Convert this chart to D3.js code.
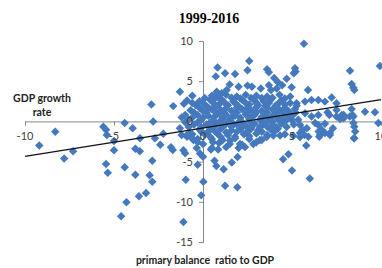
<!DOCTYPE html>
<html>
<head>
<meta charset="utf-8">
<script src="https://cdn.jsdelivr.net/npm/d3@7"></script>
<style>
  body { margin: 0; background: #fff; }
  svg { display: block; }
</style>
</head>
<body>
<svg width="382" height="268"></svg>
<script>
// primary balance ratio (x) vs GDP growth rate (y)

const leftPoints = [
  [-9.2,-3.0],[-8.3,-1.3],[-7.8,-4.6],[-7.3,-3.7],
  [-5.6,-0.65],[-5.45,-1.05],[-5.4,-1.7],[-5.0,-2.45],[-5.0,-3.6],
  [-5.45,-5.3],[-5.35,-6.4],[-4.4,-5.7],[-3.8,-6.65],[-3.0,-6.7],[-2.85,-7.5],[-2.85,-4.9],
  [-4.3,-10.05],[-3.6,-9.3],[-3.2,-8.9],[-4.6,-11.8],
  [-4.4,-0.2],[-3.95,-0.85],[-2.8,0.0],[-2.9,2.1],[-1.67,1.9],[-1.07,2.2],[-1.3,3.7],
  [-3.54,-2.1],[-2.7,-2.1],[-2.23,-1.55],[-3.8,-3.4],[-3.55,-3.7],
  [-2.4,-2.9],[-1.8,-3.2],[-1.7,-3.55]
];

const lowerPoints = [
  [-1.1,-12.5],[-0.97,-7.25],[-0.3,-5.4],[-0.1,-9.2],[0.02,-7.5],
  [0.65,-4.9],[0.75,-5.55],[0.45,-3.5],[0.85,-3.5],[1.16,-5.95],[1.24,-8.0],[1.93,-8.2],
  [1.62,-5.1],[1.94,-4.42],[4.5,-4.7],[4.8,-4.1],[5.0,-6.1],[6.0,-7.1],[5.8,-3.0],
  [-1.3,-0.85],[-1.2,-1.7],[-0.9,-1.9],[-0.73,-1.5],[-0.54,-2.3],[-1.1,-3.6],[-1.0,-3.95],
  [-0.35,-3.3],[-0.17,-4.0],[0.0,-4.4]
];

const upperPoints = [
  [5.67,9.65],[9.94,6.9],[0.82,6.7],[2.6,7.5],[2.5,6.35],[3.6,6.5],[3.7,6.1],[1.24,6.0],[1.8,5.9],
  [5.17,6.6],[5.2,6.2],[5.1,6.0],[8.26,6.3],[0.72,5.6],[1.5,4.6],[2.0,4.3],[2.5,4.45],[2.75,4.3],
  [3.25,4.1],[3.7,4.5],[4.0,5.4],[4.2,4.9],[4.45,4.5],[4.7,5.3],[4.98,4.25],[5.9,3.9],
  [8.35,4.65],[8.45,4.2],[8.5,3.9],[0.77,3.7],[0.67,3.1],[3.82,3.9],[4.14,4.1],
  [0.4,2.7],[0.77,3.1],[1.05,3.5],[1.33,3.9]
];

const rightPoints = [
  [5.26,2.26],[5.73,2.46],[6.1,2.67],[6.48,2.67],[6.85,2.46],[7.23,2.96],[7.5,2.26],
  [5.26,1.96],[5.17,1.55],[7.0,1.15],[7.5,1.43],[8.35,1.55],[9.1,1.2],[9.66,1.15],
  [8.4,0.8],[7.1,0.8],[7.8,0.8],[7.5,0.6],[7.9,0.8],[8.25,0.6],[5.73,1.0],[6.1,0.6],[6.48,0.8],[7.9,0.4],
  [5.45,-0.45],[5.83,-0.85],[6.3,-0.2],[6.5,-1.25],[6.85,-0.3],[7.3,-0.85],[7.7,0.3],
  [8.45,0.6],[8.5,-0.65],[8.55,-1.25],[8.45,-0.2],[8.5,-2.1],[9.85,-0.2],
  [5.07,-1.8],[5.45,-1.95],[5.92,-1.9],[6.53,-1.9],[7.13,-1.7],[8.48,-2.1],
  [6.48,-0.45],[6.67,-1.05],[6.57,-1.7],[6.85,-1.45],[7.13,-1.45],
  [4.7,0.8],[4.98,0.2],[5.35,0.2],[5.6,-1.05],[5.7,-1.7],[5.45,-1.45]
];

const clusterPoints = [
  [-0.6,3.2],[0.5,3.2],[1.3,3.3],[1.9,3.1],[2.4,3.3],[3.0,3.2],[3.6,3.1],[4.3,3.3],[4.9,3.1],
  [-0.9,2.6],[-0.2,2.5],[0.6,2.7],[1.1,2.6],[1.7,2.5],[2.2,2.7],[2.9,2.6],[3.4,2.5],[3.8,2.7],[4.4,2.6],
  [-0.4,2.0],[0.2,1.9],[0.9,2.1],[1.4,2.0],[2.0,1.9],[2.6,2.1],[3.1,2.0],[3.5,1.9],[4.1,2.0],[4.6,2.1],
  [-0.7,1.4],[0.0,1.3],[0.5,1.5],[1.0,1.4],[1.6,1.3],[2.2,1.5],[2.7,1.4],[3.3,1.3],[3.9,1.5],[4.3,1.4],[4.8,1.3],
  [-1.0,0.8],[-0.3,0.8],[0.3,0.7],[0.8,0.9],[1.3,0.8],[1.8,0.7],[2.4,0.9],[2.9,0.8],[3.5,0.7],[4.0,0.9],[4.5,0.8],[5.0,0.7],
  [-0.8,0.2],[-0.1,0.2],[0.6,0.1],[1.1,0.3],[1.5,0.2],[2.1,0.1],[2.6,0.3],[3.2,0.2],[3.7,0.1],[4.2,0.3],[4.7,0.2],
  [-0.5,-0.4],[0.2,-0.4],[0.7,-0.5],[1.3,-0.3],[1.9,-0.4],[2.4,-0.5],[2.9,-0.3],[3.4,-0.4],[3.9,-0.5],[4.4,-0.3],[5.1,-0.4],
  [-0.2,-1.0],[0.4,-1.0],[1.0,-0.9],[1.6,-1.1],[2.1,-1.0],[2.7,-0.9],[3.1,-1.1],[3.8,-1.0],[4.2,-0.9],
  [-0.6,-1.6],[0.1,-1.6],[0.8,-1.5],[1.4,-1.7],[2.3,-1.6],[3.0,-1.5],[3.6,-1.7],[4.6,-1.6],
  [-0.3,-2.2],[0.5,-2.2],[1.1,-2.3],[1.8,-2.1],[2.6,-2.2],[3.3,-2.3],
  [0.0,-2.8],[0.9,-2.7],[1.5,-2.8],[2.2,-2.9],[3.0,-2.6],
  [0.5,-3.3],[1.3,-3.2],[2.0,-3.3],
  [2.83,-2.8],[3.2,-2.3],[3.58,-1.95],[3.95,-1.75],[4.33,-1.75],
  [0.56,-2.6],[1.05,-2.4],[1.52,-2.4],[2.08,-2.8],[2.36,-3.2],
  [-0.9,-1.7],[-0.6,-2.1],[-0.3,-2.6],[-0.1,-1.3]
];

// second, offset layer of the dense middle
const clusterFill = [
  [0.1,2.9],[0.9,2.9],[1.6,2.95],[2.1,2.85],[2.7,2.9],[3.3,2.9],[3.9,2.95],[4.6,2.85],
  [-0.6,2.3],[0.0,2.3],[0.6,2.25],[1.2,2.35],[1.8,2.3],[2.4,2.3],[3.0,2.25],[3.7,2.3],[4.3,2.35],[4.9,2.3],
  [-0.2,1.7],[0.3,1.7],[0.7,1.75],[1.3,1.65],[1.9,1.7],[2.5,1.7],[3.0,1.75],[3.6,1.7],[4.2,1.65],[4.6,1.7],
  [-0.5,1.1],[0.2,1.1],[0.7,1.15],[1.2,1.05],[1.9,1.1],[2.5,1.1],[3.0,1.15],[3.6,1.1],[4.1,1.05],[4.6,1.1],[5.2,1.1],
  [-1.2,0.5],[-0.6,0.5],[0.0,0.45],[0.6,0.5],[1.1,0.55],[1.6,0.5],[2.1,0.45],[2.7,0.5],[3.3,0.55],[3.8,0.5],[4.3,0.45],[4.9,0.5],
  [-1.0,-0.1],[-0.3,-0.1],[0.4,-0.15],[0.9,-0.1],[1.6,-0.05],[2.2,-0.1],[2.7,-0.15],[3.4,-0.1],[3.9,-0.05],[4.5,-0.1],
  [-0.8,-0.7],[-0.1,-0.7],[0.5,-0.75],[1.1,-0.7],[1.6,-0.65],[2.2,-0.7],[2.7,-0.75],[3.2,-0.7],[3.6,-0.65],[4.1,-0.7],[4.7,-0.7],
  [0.3,-1.3],[0.7,-1.3],[1.3,-1.35],[1.9,-1.3],[2.5,-1.25],[3.3,-1.3],[4.0,-1.3],
  [0.4,-1.9],[1.0,-1.95],[1.8,-1.9],[2.6,-1.85]
];

const trendX = [-10, 10];
const trendY = [-4.35, 2.7];

const xTicks = [-10, -5, 0, 5, 10];
const yTicks = [-15, -10, -5, 0, 5, 10];

const allPoints = [].concat(leftPoints, lowerPoints, upperPoints, rightPoints, clusterPoints, clusterFill);

const svg = d3.select('svg');

const x = d3.scaleLinear().domain([-10, 10]).range([25, 381]);
const y = d3.scaleLinear().domain([-15, 10]).range([242, 41]);

// title and axis titles
svg.append('text')
  .attr('x', 209).attr('y', 23)
  .attr('text-anchor', 'middle')
  .style('font-family', '"Liberation Serif", serif')
  .style('font-weight', 'bold')
  .style('font-size', '14px')
  .text('1999-2016');

svg.append('text')
  .attr('x', 42).attr('y', 102)
  .attr('text-anchor', 'middle')
  .style('font-family', 'Lato, sans-serif')
  .style('font-weight', 'bold')
  .style('font-size', '10.5px')
  .style('fill', '#222')
  .text('GDP growth');
svg.append('text')
  .attr('x', 42).attr('y', 116)
  .attr('text-anchor', 'middle')
  .style('font-family', 'Lato, sans-serif')
  .style('font-weight', 'bold')
  .style('font-size', '10.5px')
  .style('fill', '#222')
  .text('rate');

svg.append('text')
  .attr('x', 205).attr('y', 264)
  .attr('text-anchor', 'middle')
  .style('font-family', 'Lato, sans-serif')
  .style('font-weight', 'bold')
  .style('font-size', '10.5px')
  .style('fill', '#222')
  .style('white-space', 'pre')
  .text('primary balance  ratio to GDP');

// axes: lines first, labels after the markers
const xAxis = svg.append('g')
  .attr('transform', `translate(0,${y(0)})`)
  .call(d3.axisBottom(x).tickValues(xTicks).tickSize(4).tickPadding(6));
const yAxis = svg.append('g')
  .attr('transform', `translate(${x(0)},0)`)
  .call(d3.axisLeft(y).tickValues(yTicks).tickSize(4).tickPadding(6));

svg.selectAll('.domain, .tick line').attr('stroke', '#888');
xAxis.selectAll('.tick text').remove();
yAxis.selectAll('.tick text').remove();

// markers
svg.append('g')
  .selectAll('path')
  .data(allPoints)
  .enter()
  .append('path')
  .attr('d', d3.symbol().type(d3.symbolSquare).size(36))
  .attr('transform', d => `translate(${x(d[0])},${y(d[1])}) rotate(45)`)
  .attr('fill', '#4579be');

// trend line
svg.append('line')
  .attr('x1', x(trendX[0])).attr('y1', y(trendY[0]))
  .attr('x2', x(trendX[1])).attr('y2', y(trendY[1]))
  .attr('stroke', '#111')
  .attr('stroke-width', 1.3);

// tick labels on top
const labels = svg.append('g')
  .style('font-family', 'Lato, "Open Sans", sans-serif')
  .style('font-size', '11px')
  .style('fill', '#404040');

labels.selectAll('.xl')
  .data(xTicks)
  .enter()
  .append('text')
  .attr('x', d => x(d))
  .attr('y', y(0) + 19)
  .attr('text-anchor', 'middle')
  .text(d => d);

labels.selectAll('.yl')
  .data(yTicks)
  .enter()
  .append('text')
  .attr('x', x(0) - 10)
  .attr('y', d => y(d) + 4)
  .attr('text-anchor', 'end')
  .text(d => d);
</script>
</body>
</html>
